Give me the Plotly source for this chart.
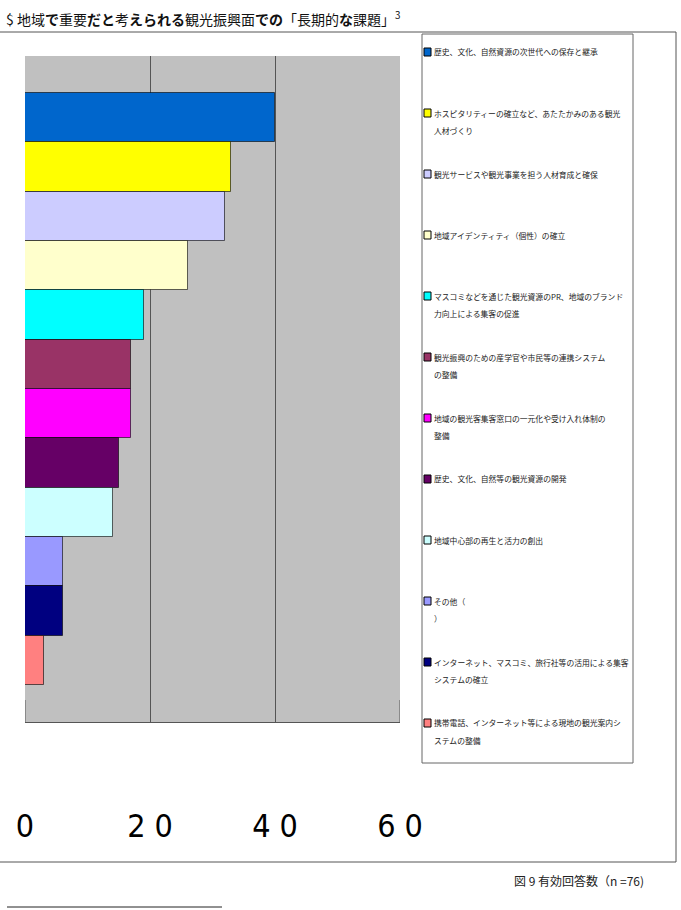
import plotly.graph_objects as go

# ---------------- data ----------------
categories = [
    "歴史、文化、自然資源の次世代への保存と継承",
    "ホスピタリティーの確立など、あたたかみのある観光人材づくり",
    "観光サービスや観光事業を担う人材育成と確保",
    "地域アイデンティティ（個性）の確立",
    "マスコミなどを通じた観光資源のPR、地域のブランド力向上による集客の促進",
    "観光振興のための産学官や市民等の連携システムの整備",
    "地域の観光客集客窓口の一元化や受け入れ体制の整備",
    "歴史、文化、自然等の観光資源の開発",
    "地域中心部の再生と活力の創出",
    "その他（　）",
    "インターネット、マスコミ、旅行社等の活用による集客システムの確立",
    "携帯電話、インターネット等による現地の観光案内システムの整備",
]
legend_lines = [
    ["歴史、文化、自然資源の次世代への保存と継承"],
    ["ホスピタリティーの確立など、あたたかみのある観光", "人材づくり"],
    ["観光サービスや観光事業を担う人材育成と確保"],
    ["地域アイデンティティ（個性）の確立"],
    ["マスコミなどを通じた観光資源のPR、地域のブランド", "力向上による集客の促進"],
    ["観光振興のための産学官や市民等の連携システム", "の整備"],
    ["地域の観光客集客窓口の一元化や受け入れ体制の", "整備"],
    ["歴史、文化、自然等の観光資源の開発"],
    ["地域中心部の再生と活力の創出"],
    ["その他（", "）"],
    ["インターネット、マスコミ、旅行社等の活用による集客", "システムの確立"],
    ["携帯電話、インターネット等による現地の観光案内シ", "ステムの整備"],
]
values = [40, 33, 32, 26, 19, 17, 17, 15, 14, 6, 6, 3]
colors = ["#0066CC", "#FFFF00", "#CCCCFF", "#FFFFCC", "#00FFFF", "#993366",
          "#FF00FF", "#660066", "#CCFFFF", "#9999FF", "#000080", "#FF8080"]
tick_values = [0, 20, 40, 60]
tick_labels = ["0", "2 0", "4 0", "6 0"]

title_html = ("$ 地域<b>で</b>重要<b>だと</b>考<b>えられる</b>観光振興面<b>での</b>"
              "「長期的<b>な</b>課題」<sup>3</sup>")
caption = "図 9 有効回答数（n =76)"

# ---------------- layout geometry (pixels) ----------------
W_FIG, H_FIG = 681, 910
L, R, T, B = 25, 400, 56, 722
PW, PH = R - L, B - T


def px(x):
    return (x - L) / PW


def py(y):
    return (B - y) / PH


JP = "Noto Sans CJK JP, Noto Sans, sans-serif"

fig = go.Figure()
fig.add_trace(go.Bar(
    x=values,
    y=list(range(len(values))),
    orientation="h",
    width=1.0,
    marker=dict(color=colors, line=dict(color="rgba(0,0,0,0.6)", width=1)),
    hovertext=categories,
    showlegend=False,
))

shapes = []
annotations = []

# outer frame
shapes.append(dict(type="rect", xref="paper", yref="paper",
                   x0=px(-6), x1=px(676), y0=py(862), y1=py(32),
                   line=dict(color="#555555", width=1), fillcolor="rgba(0,0,0,0)",
                   layer="below"))
# legend box
shapes.append(dict(type="rect", xref="paper", yref="paper",
                   x0=px(422), x1=px(633), y0=py(763), y1=py(34),
                   line=dict(color="#666666", width=1), fillcolor="white",
                   layer="below"))
# footnote line
shapes.append(dict(type="line", xref="paper", yref="paper",
                   x0=px(7), x1=px(222), y0=py(907), y1=py(907),
                   line=dict(color="#222222", width=1)))
# inside tick marks at the two ends of the value axis
for tv in (tick_values[0], tick_values[-1]):
    shapes.append(dict(type="line", xref="x", yref="paper",
                       x0=tv, x1=tv, y0=0, y1=22 / PH,
                       line=dict(color="#555555", width=1)))

# manual legend
y0_leg, step = 52, 61
for i, (lines, col) in enumerate(zip(legend_lines, colors)):
    yc = y0_leg + step * i
    shapes.append(dict(type="rect", xref="paper", yref="paper",
                       x0=px(424), x1=px(431), y0=py(yc + 4), y1=py(yc - 4),
                       line=dict(color="#000000", width=1), fillcolor=col))
    for j, ln in enumerate(lines):
        annotations.append(dict(xref="paper", yref="paper", x=px(432), y=py(yc + 17 * j),
                                xanchor="left", yanchor="middle", showarrow=False,
                                text=ln, font=dict(family=JP, size=7.8, color="#222222")))

# title
annotations.append(dict(xref="paper", yref="paper", x=px(4), y=py(18),
                        xanchor="left", yanchor="middle", showarrow=False,
                        text=title_html, font=dict(family=JP, size=14, color="#111111")))
# caption
annotations.append(dict(xref="paper", yref="paper", x=px(646), y=py(880),
                        xanchor="right", yanchor="middle", showarrow=False,
                        text=caption, font=dict(family=JP, size=12, color="#222222")))

fig.update_layout(
    width=W_FIG, height=H_FIG,
    margin=dict(l=L, r=W_FIG - R, t=T, b=H_FIG - B, pad=0),
    paper_bgcolor="white",
    plot_bgcolor="#C0C0C0",
    bargap=0,
    shapes=shapes,
    annotations=annotations,
    xaxis=dict(
        range=[0, 60], tickvals=tick_values, ticktext=tick_labels,
        showgrid=True, gridcolor="#555555", gridwidth=1,
        zeroline=False, showline=True, linecolor="#555555", linewidth=1,
        ticks="inside", ticklen=22, tickcolor="#555555", tickwidth=1,
        ticklabelstandoff=76,
        tickfont=dict(family="Liberation Sans Narrow, DejaVu Sans Condensed, Liberation Sans, sans-serif",
                      size=32, color="#000000"),
        fixedrange=True,
    ),
    yaxis=dict(
        range=[len(values) - 1 + 1.25, -1.25],
        showticklabels=False, showgrid=False, zeroline=False, ticks="",
        fixedrange=True,
    ),
)

fig.write_html("out.html")
